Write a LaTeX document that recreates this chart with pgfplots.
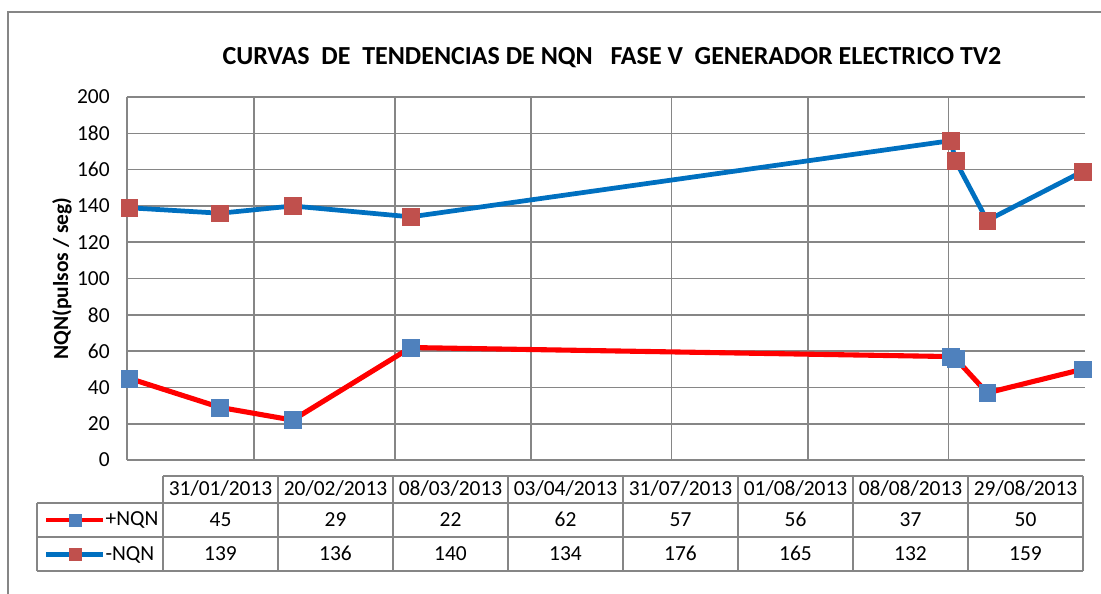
\documentclass[border=0pt]{standalone}
\usepackage{pgfplots}
\pgfplotsset{compat=1.18}
\usepackage{fontspec}
\setmainfont{Carlito}
\definecolor{gridgray}{RGB}{134,134,134}
\definecolor{plusline}{RGB}{255,0,0}
\definecolor{plusmark}{RGB}{79,129,189}
\definecolor{minusline}{RGB}{0,112,192}
\definecolor{minusmark}{RGB}{192,80,77}

\begin{document}
\begin{tikzpicture}[x=0.02cm,y=0.02cm]
% dates as day of year 2013, axis from 30.5 (31/01) to 241.5 (29/08)
\begin{axis}[
  at={(2.54cm,2.68cm)}, anchor=south west,
  scale only axis, width=19.16cm, height=7.26cm,
  xmin=30.5, xmax=241.5, ymin=0, ymax=200,
  axis lines=left,
  axis line style={gridgray, line width=0.9pt, -},
  xtick={58.5,89.5,119.5,150.5,180.5,211.5},
  xticklabels={},
  ytick={0,20,...,200},
  major tick length=0pt,
  grid=major,
  grid style={gridgray, line width=0.9pt},
  yticklabel style={font=\fontsize{12.2}{14}\selectfont, anchor=east, inner sep=0pt, xshift=-0.34cm},
  /pgf/number format/assume math mode=true,
  ylabel={\bfseries NQN(pulsos / seg)},
  every axis y label/.style={at={(axis description cs:-0.0678,0.5)}, rotate=90, anchor=center, font=\fontsize{12.2}{14}\selectfont},
  clip=false,
  legend style={at={(axis description cs:-0.0866,-0.117)}, anchor=north west,
    draw=none, fill=none, inner sep=0pt, font=\fontsize{12.2}{14}\selectfont,
    nodes={inner sep=0pt, minimum height=0.69cm},
    /tikz/every even column/.append style={column sep=0.06cm}},
  legend cell align=left,
  legend image code/.code={
    \draw[mark repeat=2, mark phase=2, line width=2.4pt, mark size=3.4pt]
      plot coordinates {(0cm,0cm) (0.57cm,0cm) (1.14cm,0cm)};
  },
]
\addplot[plusline, line width=2.9pt, mark=square*, mark size=4.8pt,
  mark options={fill=plusmark, draw=plusmark, line width=0.3pt}]
  coordinates {(31,45) (51,29) (67,22) (93,62) (212,57) (213,56) (220,37) (241,50)};
\addlegendentry{+NQN}
\addplot[minusline, line width=2.7pt, mark=square*, mark size=4.8pt,
  mark options={fill=minusmark, draw=minusmark, line width=0.3pt}]
  coordinates {(31,139) (51,136) (67,140) (93,134) (212,176) (213,165) (220,132) (241,159)};
\addlegendentry{-NQN}
\end{axis}

% title
\node[font=\fontsize{14.8}{18}\selectfont\bfseries] at (612,536)
  {CURVAS\ \ DE\ \ TENDENCIAS DE NQN\ \ \ FASE V\ \ GENERADOR ELECTRICO TV2};

% data table
\begin{scope}[gridgray, line width=0.9pt]
  \draw (163,118) -- (1083,118);
  \draw (37,91) -- (1083,91);
  \draw (37,57) -- (1083,57);
  \draw (37,23) -- (1083,23);
  \draw (37,23) -- (37,91);
  \foreach \i in {0,...,8} {\draw (163+115*\i,23) -- (163+115*\i,118);}
\end{scope}
\begin{scope}[every node/.style={font=\fontsize{12.2}{14}\selectfont, anchor=base, inner sep=0pt}]
  \foreach \d [count=\i from 0] in {31/01/2013,20/02/2013,08/03/2013,03/04/2013,31/07/2013,01/08/2013,08/08/2013,29/08/2013}
    {\node at (220.5+115*\i,98) {\d};}
  \foreach \v [count=\i from 0] in {45,29,22,62,57,56,37,50}
    {\node at (220.5+115*\i,67) {\v};}
  \foreach \v [count=\i from 0] in {139,136,140,134,176,165,132,159}
    {\node at (220.5+115*\i,33) {\v};}
\end{scope}

% chart area border (top and left edges visible)
\draw[gridgray, line width=0.9pt] (8,0) -- (8,582) -- (1101,582);

\pgfresetboundingbox
\path[use as bounding box] (0,0) rectangle (1101,594);
\end{tikzpicture}
\end{document}
